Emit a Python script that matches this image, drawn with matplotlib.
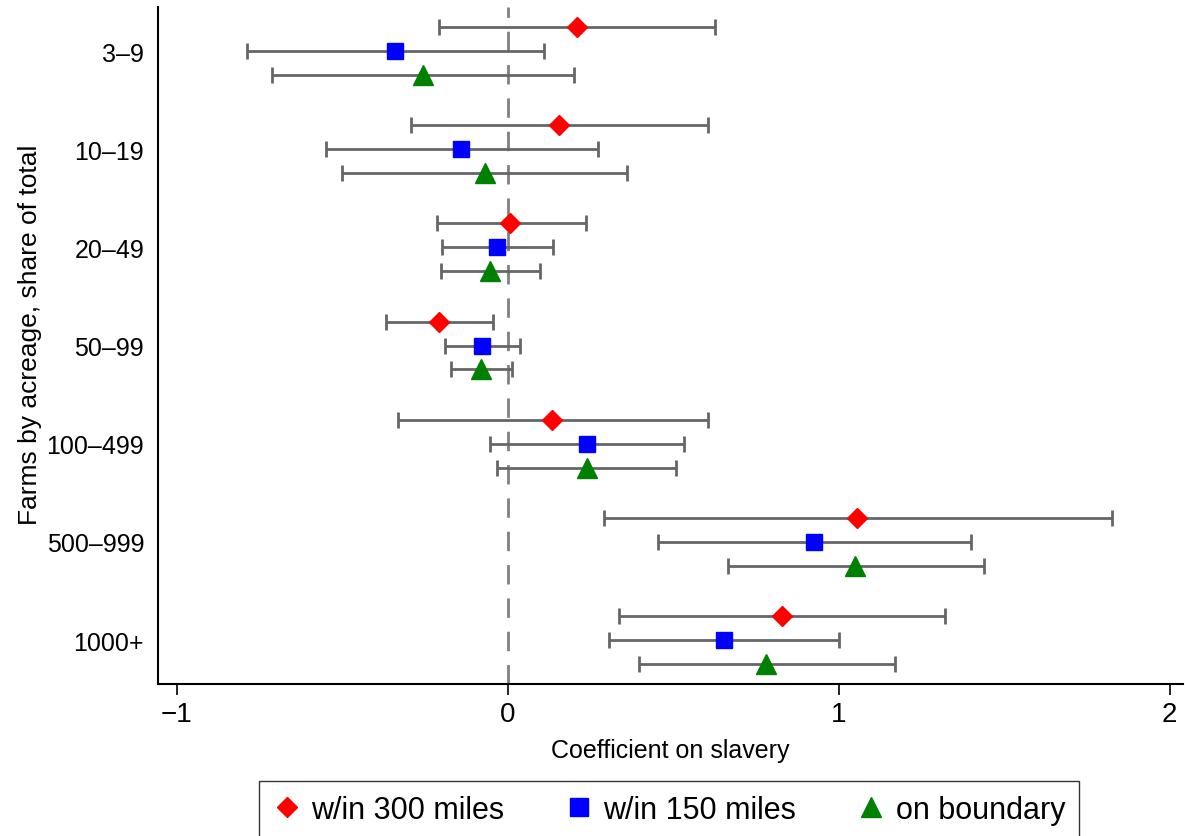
import numpy as np
import matplotlib.pyplot as plt
from matplotlib.lines import Line2D

plt.rcParams['font.family'] = ['Liberation Sans', 'DejaVu Sans']

cats = ['3\u20139', '10\u201319', '20\u201349', '50\u201399', '100\u2013499', '500\u2013999', '1000+']

# w/in 300 miles
red_b = [0.208, 0.154, 0.006, -0.208, 0.133, 1.054, 0.828]
red_lo = [-0.208, -0.293, -0.214, -0.369, -0.332, 0.290, 0.335]
red_hi = [0.625, 0.604, 0.236, -0.045, 0.604, 1.825, 1.320]

# w/in 150 miles
blue_b = [-0.341, -0.142, -0.033, -0.079, 0.239, 0.924, 0.653]
blue_lo = [-0.789, -0.550, -0.199, -0.190, -0.054, 0.453, 0.305]
blue_hi = [0.109, 0.272, 0.136, 0.036, 0.532, 1.399, 1.000]

# on boundary
green_b = [-0.257, -0.069, -0.054, -0.082, 0.239, 1.048, 0.779]
green_lo = [-0.713, -0.500, -0.202, -0.172, -0.033, 0.665, 0.396]
green_hi = [0.199, 0.360, 0.097, 0.012, 0.508, 1.438, 1.169]

series = [
    ('w/in 300 miles', red_b, red_lo, red_hi, 'D', '#ff0000', 10, -0.244),
    ('w/in 150 miles', blue_b, blue_lo, blue_hi, 's', '#0000ff', 12, 0.0),
    ('on boundary', green_b, green_lo, green_hi, '^', '#008000', 14, 0.244),
]

fig = plt.figure(figsize=(11.85, 8.37), dpi=100)
ax = fig.add_axes([0.1333, 0.1816, 0.865, 0.8088])

ypos = np.arange(len(cats))
ax.axvline(0, color='#808080', lw=2, ls=(0, (7, 5)), zorder=1)

handles = []
for name, b, lo, hi, mk, col, ms, off in series:
    b = np.array(b); lo = np.array(lo); hi = np.array(hi)
    ax.errorbar(b, ypos + off, xerr=[b - lo, hi - b], fmt='none',
                ecolor='#666666', elinewidth=2, capsize=5.5, capthick=2, zorder=2)
    ax.plot(b, ypos + off, ls='none', marker=mk, color=col, markersize=ms, zorder=3)
    handles.append(Line2D([], [], ls='none', marker=mk, color=col, markersize=ms * 1.05, label=name))

ax.set_xlim(-1.057, 2.040)
ax.set_ylim(len(cats) - 1 + 0.448, -0.448)
ax.set_yticks(ypos)
ax.set_yticklabels(cats, fontsize=18)
ax.tick_params(axis='y', length=0, pad=10)
ax.set_xticks([-1, 0, 1, 2])
ax.set_xticklabels(['\u22121', '0', '1', '2'], fontsize=20)
ax.tick_params(axis='x', length=8, width=1.2, pad=4)

for s in ['top', 'right']:
    ax.spines[s].set_visible(False)
for s in ['left', 'bottom']:
    ax.spines[s].set_linewidth(1.5)

ax.set_xlabel('Coefficient on slavery', fontsize=18, labelpad=8)
ax.set_ylabel('Farms by acreage, share of total', fontsize=19)
ax.yaxis.set_label_coords(-0.113, 0.518)

leg = fig.legend(handles=handles, loc='upper center', bbox_to_anchor=(0.5646, 0.0657),
                 ncol=3, fontsize=22, frameon=True, fancybox=False, edgecolor='black',
                 handletextpad=0.35, columnspacing=2.0, borderpad=0.45, handlelength=0.9,
                 borderaxespad=0)
leg.get_frame().set_linewidth(1.0)

fig.savefig('out.png', dpi=100)
